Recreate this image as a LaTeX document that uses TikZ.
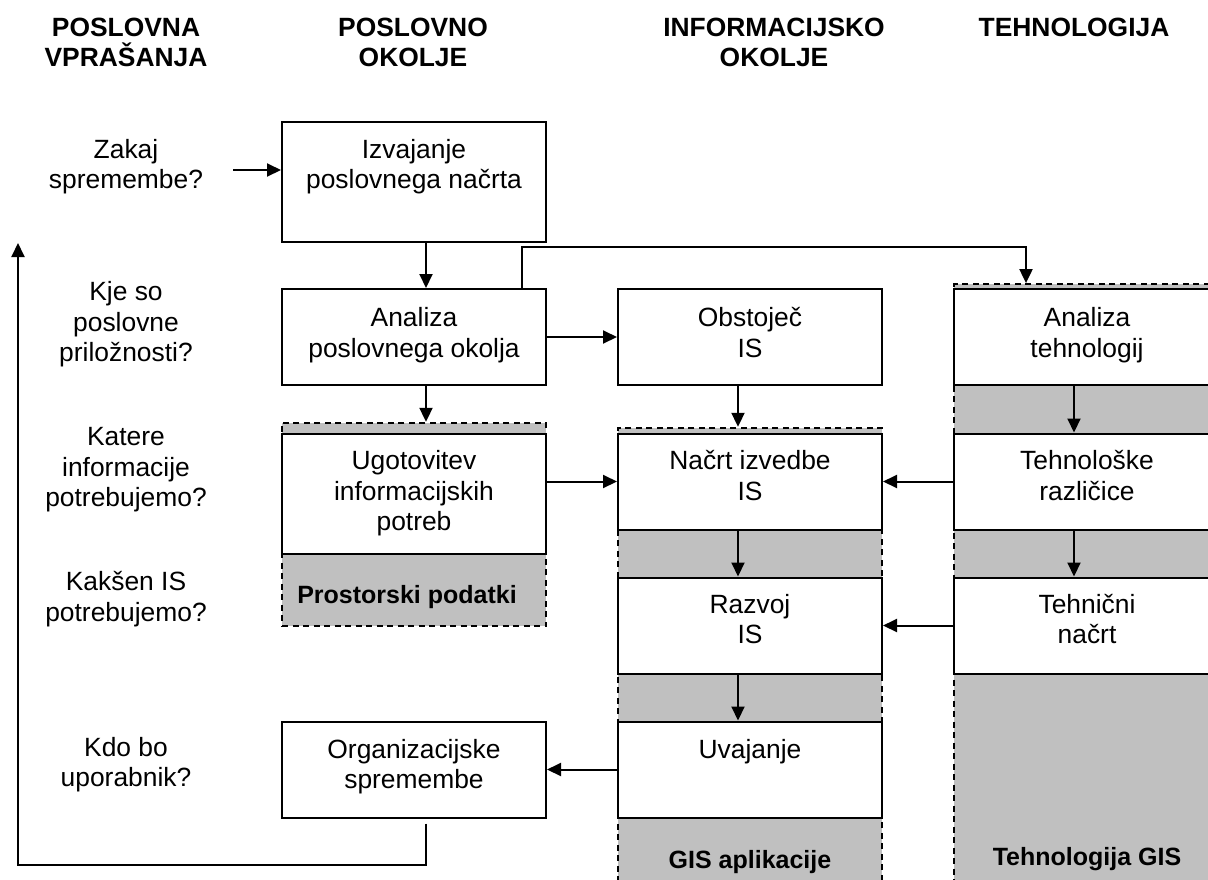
\documentclass[tikz,border=0pt]{standalone}
\usepackage{fontspec}
\setmainfont{Liberation Sans}
\usetikzlibrary{arrows.meta}
\definecolor{silver}{RGB}{192,192,192}
\begin{document}
\begin{tikzpicture}[x=1pt,y=-1pt,
  box/.style={draw, fill=white, line width=2pt, inner sep=0pt, minimum width=264pt},
  grp/.style={draw, fill=silver, line width=1.8pt, dash pattern=on 6pt off 4.5pt, inner sep=0pt, minimum width=264pt},
  txt/.style={anchor=north, align=center, inner sep=0pt, font=\fontsize{26.4}{30.5}\selectfont},
  hdr/.style={anchor=north, align=center, inner sep=0pt, font=\bfseries\fontsize{26.4}{29.5}\selectfont},
  lbl/.style={anchor=base, inner sep=0pt, font=\bfseries\fontsize{25}{30}\selectfont},
  arr/.style={draw, line width=2pt, -{Triangle[length=14pt,width=13pt]}},
]
\useasboundingbox (0,0) rectangle (1208,879);
\clip (0,0) rectangle (1208,879);

% column headings
\node[hdr] (h1) at (126,18) {POSLOVNA\\VPRAŠANJA};
\node[hdr] (h2) at (413,18) {POSLOVNO\\OKOLJE};
\node[hdr] (h3) at (774,18) {INFORMACIJSKO\\OKOLJE};
\node[hdr] (h4) at (1074,18) {TEHNOLOGIJA};

% business questions
\node[txt] (q1) at (126,139) {Zakaj\\spremembe?};
\node[txt] (q2) at (126,281.5) {Kje so\\poslovne\\priložnosti?};
\node[txt] (q3) at (126,427.5) {Katere\\informacije\\potrebujemo?};
\node[txt] (q4) at (126,571.5) {Kakšen IS\\potrebujemo?};
\node[txt] (q5) at (126,737) {Kdo bo\\uporabnik?};

% shaded groups
\node[grp, minimum height=203.3pt] (g2) at (414,524.35) {};
\node[grp, minimum height=472.3pt] (g3) at (750,663.85) {};
\node[grp, minimum width=266pt, minimum height=616pt] (g4) at (1087,592) {};

% process boxes
\node[box, minimum height=120pt] (izv) at (414,182) {};
\node[box, minimum height=96pt] (anp) at (414,337) {};
\node[box, minimum height=96pt] (obs) at (750,337) {};
\node[box, minimum width=266pt, minimum height=96pt] (atg) at (1087,337) {};
\node[box, minimum height=120pt] (ugo) at (414,494) {};
\node[box, minimum height=96pt] (nac) at (750,481.5) {};
\node[box, minimum width=266pt, minimum height=96pt] (tehr) at (1087,481.5) {};
\node[box, minimum height=96pt] (raz) at (750,625.5) {};
\node[box, minimum width=266pt, minimum height=96pt] (tehn) at (1087,625.5) {};
\node[box, minimum height=96pt] (uva) at (750,769.5) {};
\node[box, minimum height=96pt] (org) at (414,769.5) {};

% box texts
\node[txt] (t-izv) at (414,138.8) {Izvajanje\\poslovnega načrta};
\node[txt] (t-anp) at (414,307.2) {Analiza\\poslovnega okolja};
\node[txt] (t-obs) at (750,307.2) {Obstoječ\\IS};
\node[txt] (t-atg) at (1087,307.2) {Analiza\\tehnologij};
\node[txt] (t-ugo) at (414,450.5) {Ugotovitev\\informacijskih\\potreb};
\node[txt] (t-nac) at (750,450.5) {Načrt izvedbe\\IS};
\node[txt] (t-tehr) at (1087,450.5) {Tehnološke\\različice};
\node[txt] (t-raz) at (750,594) {Razvoj\\IS};
\node[txt] (t-tehn) at (1087,594) {Tehnični\\načrt};
\node[txt] (t-uva) at (750,739) {Uvajanje};
\node[txt] (t-org) at (414,739) {Organizacijske\\spremembe};

% group labels
\node[lbl] (l2) at (407,603) {Prostorski podatki};
\node[lbl] (l3) at (750,868) {GIS aplikacije};
\node[lbl] (l4) at (1087,865) {Tehnologija GIS};

% connectors
\coordinate (zs) at (233,170);
\coordinate (c1) at (1026,247);
\coordinate (lp) at (18,865);
\coordinate (lt) at (18,243);

\draw[arr] (zs) -- (zs -| izv.west);
\draw[arr] ([xshift=12pt]izv.south) -- ([xshift=12pt]anp.north);
\draw[arr] ([xshift=108pt]anp.north) |- (c1) -- (c1 |- g4.north);
\draw[arr] (anp.east) -- (obs.west);
\draw[arr] ([xshift=12pt]anp.south) -- ([xshift=12pt]g2.north);
\draw[arr] ([xshift=-12pt]obs.south) -- ([xshift=-12pt]g3.north);
\draw[arr] (ugo.east |- nac.west) -- (nac.west);
\draw[arr] ([xshift=-13pt]atg.south) -- ([xshift=-13pt]tehr.north);
\draw[arr] (tehr.west) -- (nac.east);
\draw[arr] ([xshift=-12pt]nac.south) -- ([xshift=-12pt]raz.north);
\draw[arr] ([xshift=-13pt]tehr.south) -- ([xshift=-13pt]tehn.north);
\draw[arr] (tehn.west) -- (raz.east);
\draw[arr] ([xshift=-12pt]raz.south) -- ([xshift=-12pt]uva.north);
\draw[arr] (uva.west) -- (org.east);
\draw[arr] ([xshift=12pt,yshift=-5pt]org.south) |- (lp) -- (lt);
\end{tikzpicture}
\end{document}
